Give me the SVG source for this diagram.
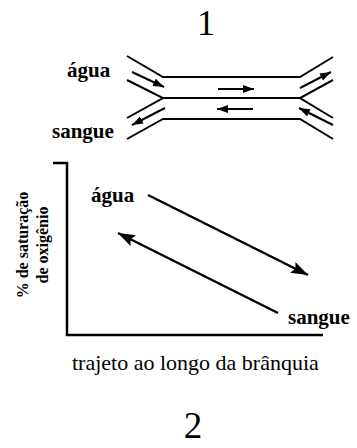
<svg xmlns="http://www.w3.org/2000/svg" width="357" height="448" viewBox="0 0 357 448">
<style>
.ln{fill:none;stroke:#000;stroke-width:2}
.ax{fill:none;stroke:#000;stroke-width:2.5}
text{font-family:'Liberation Serif','Tinos','DejaVu Serif','Times New Roman',serif;fill:#000}
.lb{font-weight:bold}
</style>
<defs>
<marker id="sh" markerUnits="userSpaceOnUse" markerWidth="12" markerHeight="10" refX="11" refY="4" orient="auto"><path d="M0,0 L11,4 L0,8 z" fill="#000"/></marker>
<marker id="bh" markerUnits="userSpaceOnUse" markerWidth="18" markerHeight="14" refX="17" refY="6" orient="auto"><path d="M0,0 L17,6 L0,12 L3,6 z" fill="#000"/></marker>
</defs>
<g id="title1"><text x="206" y="35" font-size="36" text-anchor="middle">1</text></g>
<g id="gill">
<polyline class="ln" points="127,56 163,77 300,77 333,57"/>
<polyline class="ln" points="127,80 163,98 127,118"/>
<line class="ln" x1="163" y1="98" x2="300" y2="98"/>
<polyline class="ln" points="333,80 300,98 333,118"/>
<polyline class="ln" points="127,139 163,119 300,119 333,139"/>
</g>
<g id="gill-labels">
<text class="lb" x="67" y="77" font-size="21">água</text>
<text class="lb" x="52" y="138" font-size="21">sangue</text>
</g>
<g id="connectors">
<line class="ln" x1="132" y1="72" x2="164" y2="87" marker-end="url(#sh)"/>
<line class="ln" x1="300" y1="88" x2="331" y2="72" marker-end="url(#sh)"/>
<line class="ln" x1="218" y1="89" x2="254" y2="89" marker-end="url(#sh)"/>
<line class="ln" x1="253" y1="109" x2="217" y2="109" marker-end="url(#sh)"/>
<line class="ln" x1="165" y1="108" x2="132" y2="125" marker-end="url(#sh)"/>
<line class="ln" x1="333" y1="125" x2="299" y2="108" marker-end="url(#sh)"/>
<line class="ax" x1="148" y1="195" x2="308" y2="275" marker-end="url(#bh)"/>
<line class="ax" x1="278" y1="313" x2="118" y2="233" marker-end="url(#bh)"/>
</g>
<g id="axes">
<polyline class="ax" points="53,163 67,163 67,335 323,335"/>
</g>
<g id="graph-labels">
<text class="lb" x="91" y="202" font-size="21">água</text>
<text class="lb" x="288" y="324" font-size="21">sangue</text>
<text class="lb" font-size="16" text-anchor="middle" transform="translate(28,245) rotate(-90)">% de saturação</text>
<text class="lb" font-size="16" text-anchor="middle" transform="translate(48,245) rotate(-90)">de oxigênio</text>
<text x="72" y="370" font-size="22">trajeto ao longo da brânquia</text>
</g>
<g id="title2"><text x="193" y="438" font-size="37" text-anchor="middle">2</text></g>
</svg>
